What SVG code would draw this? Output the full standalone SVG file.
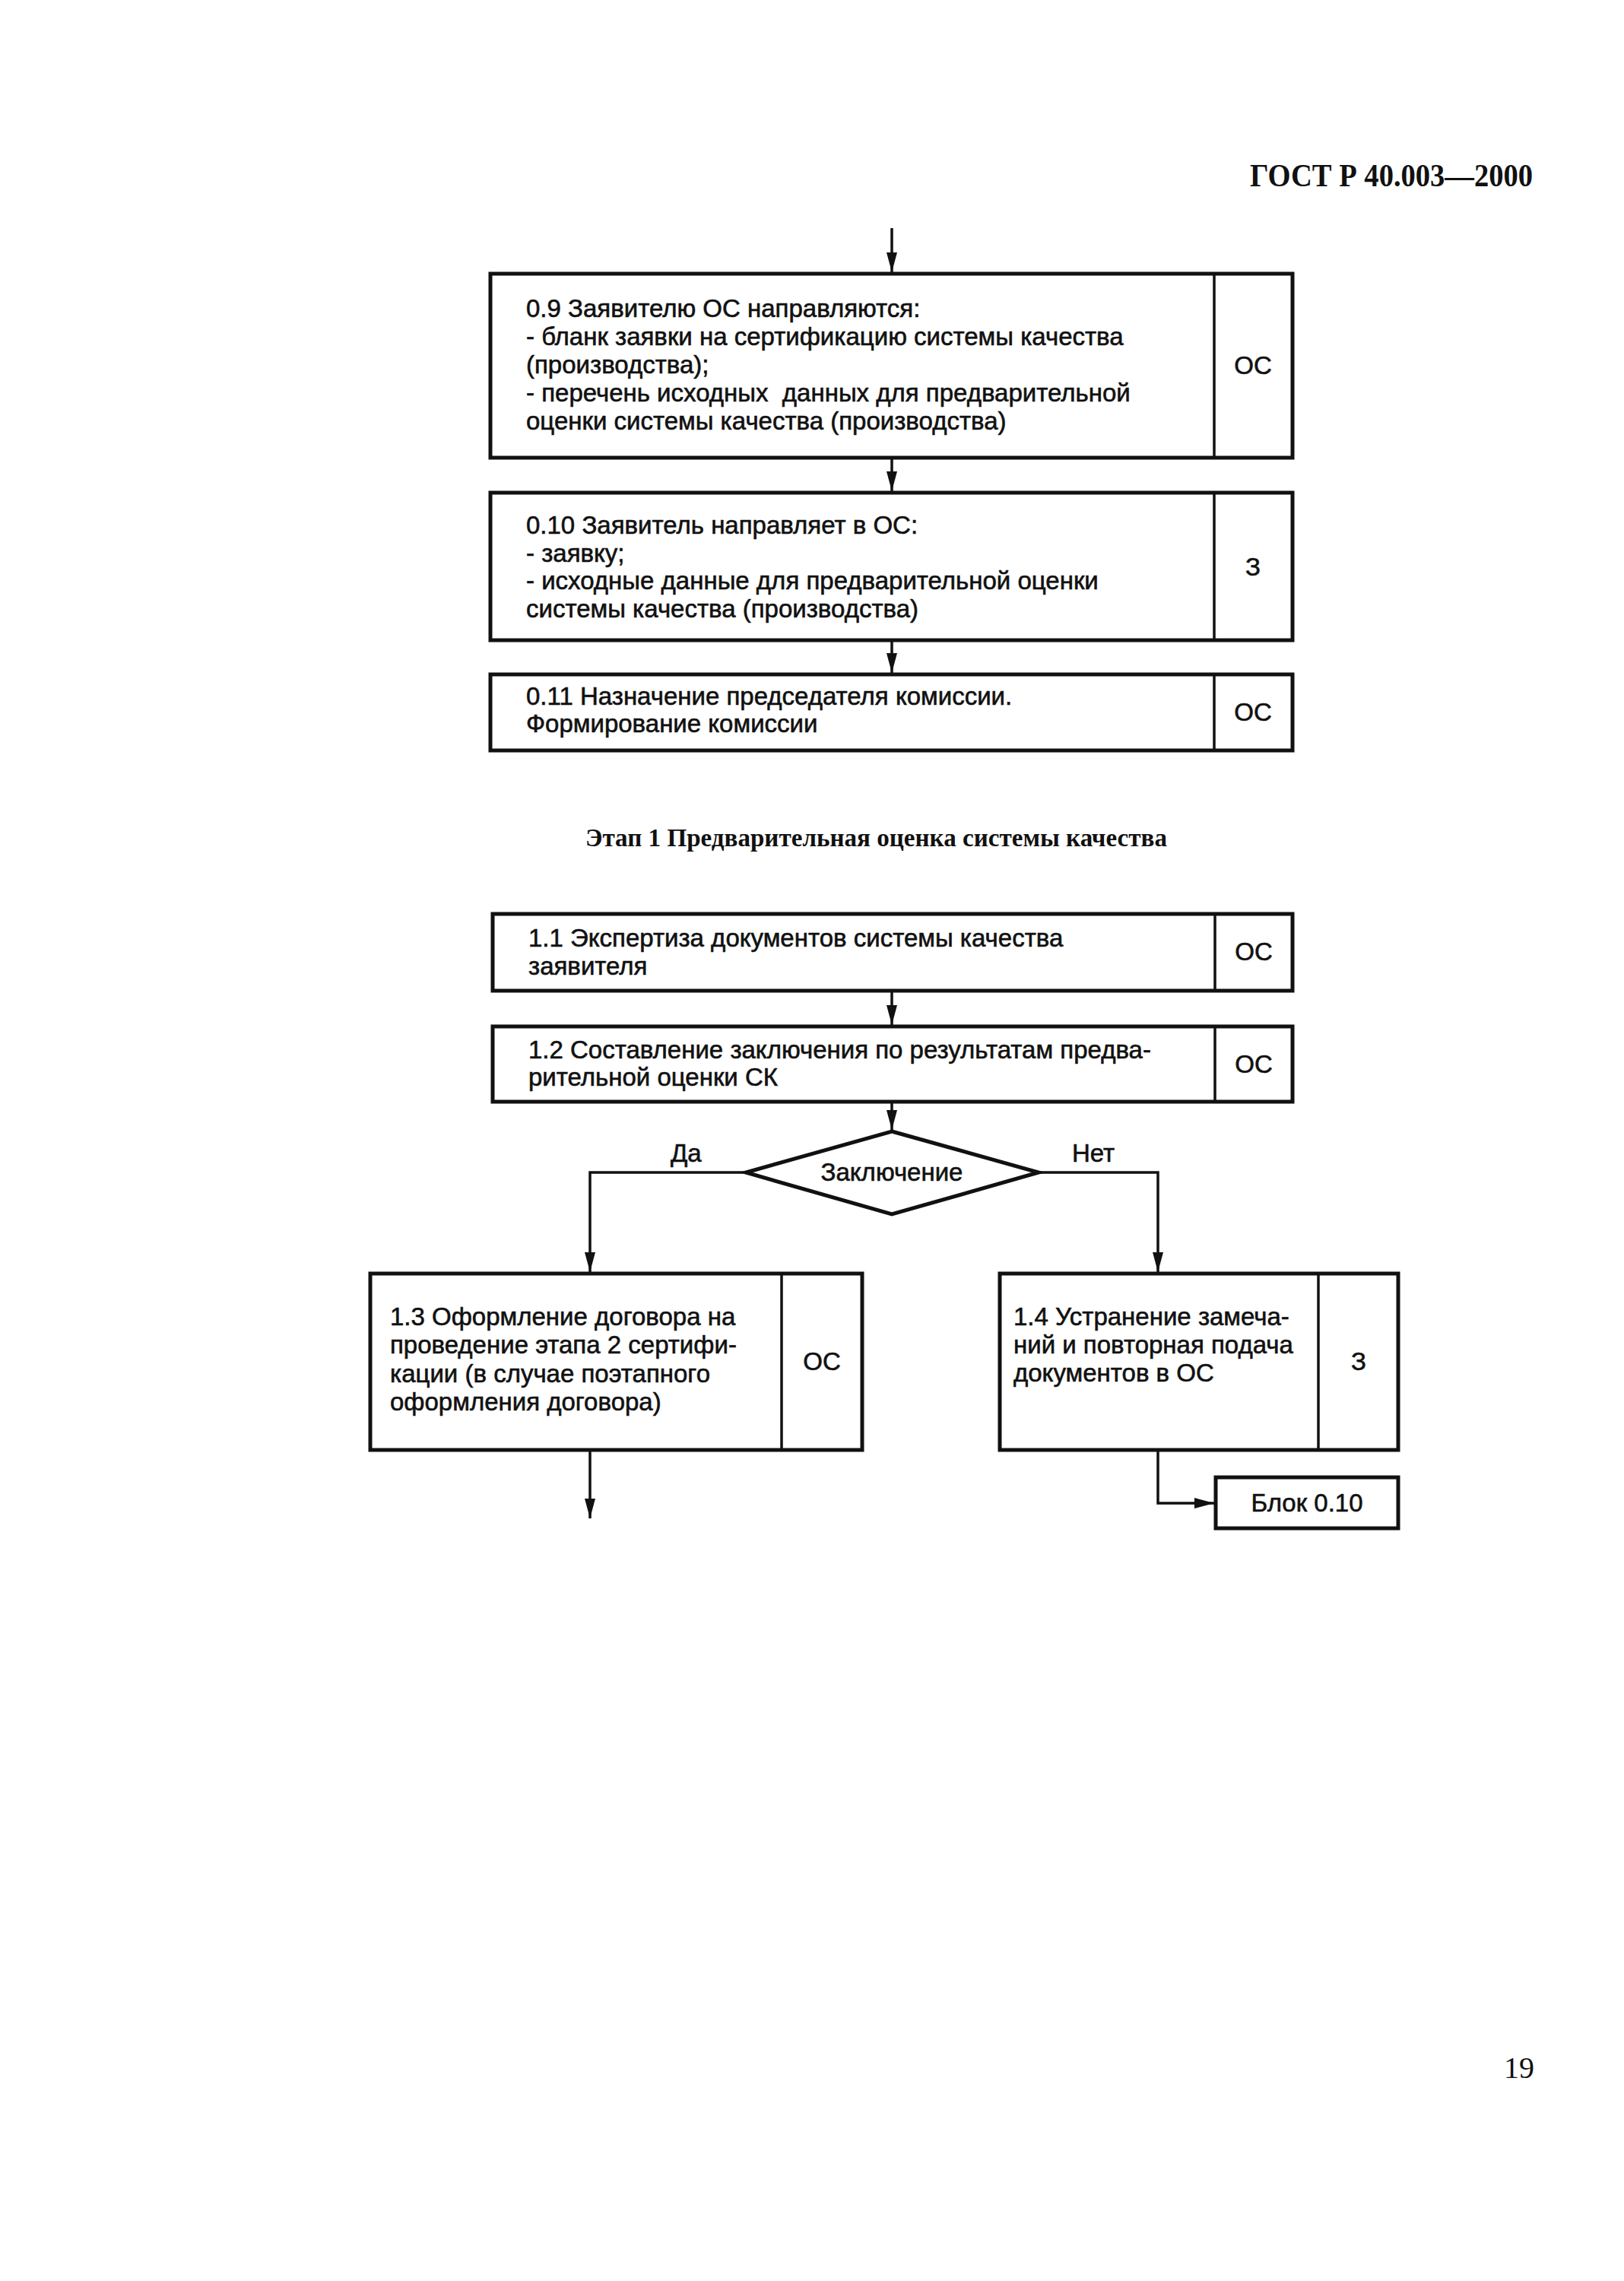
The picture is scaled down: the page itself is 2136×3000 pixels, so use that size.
<svg xmlns="http://www.w3.org/2000/svg" width="2136" height="3000" viewBox="0 0 2136 3000">
<style>
.bg{fill:#fff}
.box{fill:#fff;stroke:#111;stroke-width:5}
.div{stroke:#111;stroke-width:3.5;fill:none}
.t{font-family:"Liberation Sans",Arial,sans-serif;font-size:33px;fill:#111;stroke:#111;stroke-width:0.6}
.c{text-anchor:middle}
.hd{font-family:"Liberation Serif","Times New Roman",serif;font-weight:bold;fill:#111}
.pg{font-family:"Liberation Serif","Times New Roman",serif;fill:#111}
.ln{fill:none;stroke:#111;stroke-width:3.5}
</style>
<defs>
<marker id="ah" markerUnits="userSpaceOnUse" markerWidth="28" markerHeight="14" refX="26" refY="7" orient="auto">
<path d="M0,0 L26,7 L0,14 z" fill="#111"/>
</marker>
</defs>
<rect class="bg" x="0" y="0" width="2136" height="3000"/>
<text class="hd" x="2016" y="245" font-size="42" text-anchor="end" textLength="372" lengthAdjust="spacingAndGlyphs">ГОСТ Р 40.003—2000</text>
<text class="pg" x="2018" y="2733" font-size="40" text-anchor="end">19</text>
<text class="hd" x="770" y="1113" font-size="33" textLength="765" lengthAdjust="spacingAndGlyphs">Этап 1  Предварительная оценка системы качества</text>

<g id="connectors">
<path class="ln" d="M1173,300 V358" marker-end="url(#ah)"/>
<path class="ln" d="M1173,602 V646" marker-end="url(#ah)"/>
<path class="ln" d="M1173,842 V885" marker-end="url(#ah)"/>
<path class="ln" d="M1173,1303 V1348" marker-end="url(#ah)"/>
<path class="ln" d="M1173,1449 V1486" marker-end="url(#ah)"/>
<path class="ln" d="M981,1542 H776 V1673" marker-end="url(#ah)"/>
<path class="ln" d="M1366,1542 H1523 V1673" marker-end="url(#ah)"/>
<path class="ln" d="M776,1907 V1997" marker-end="url(#ah)"/>
<path class="ln" d="M1523,1907 V1977 H1597" marker-end="url(#ah)"/>
<text class="t" x="882" y="1528">Да</text>
<text class="t" x="1410" y="1528">Нет</text>
</g>

<g id="n09">
<rect class="box" x="645" y="360" width="1055" height="242"/>
<line class="div" x1="1597" y1="360" x2="1597" y2="602"/>
<text class="t" x="692" y="417">0.9 Заявителю ОС направляются:</text>
<text class="t" x="692" y="454">- бланк заявки на сертификацию системы качества</text>
<text class="t" x="692" y="491">(производства);</text>
<text class="t" x="692" y="528" xml:space="preserve">- перечень исходных  данных для предварительной</text>
<text class="t" x="692" y="565">оценки системы качества (производства)</text>
<text class="t c" x="1648" y="492">ОС</text>
</g>

<g id="n010">
<rect class="box" x="645" y="648" width="1055" height="194"/>
<line class="div" x1="1597" y1="648" x2="1597" y2="842"/>
<text class="t" x="692" y="702">0.10 Заявитель направляет в ОС:</text>
<text class="t" x="692" y="739">- заявку;</text>
<text class="t" x="692" y="775">- исходные данные для предварительной оценки</text>
<text class="t" x="692" y="812">системы качества (производства)</text>
<text class="t c" x="1648" y="757">З</text>
</g>

<g id="n011">
<rect class="box" x="645" y="887" width="1055" height="100"/>
<line class="div" x1="1597" y1="887" x2="1597" y2="987"/>
<text class="t" x="692" y="927">0.11 Назначение председателя комиссии.</text>
<text class="t" x="692" y="963">Формирование комиссии</text>
<text class="t c" x="1648" y="948">ОС</text>
</g>

<g id="n11">
<rect class="box" x="648" y="1202" width="1052" height="101"/>
<line class="div" x1="1598" y1="1202" x2="1598" y2="1303"/>
<text class="t" x="695" y="1245">1.1 Экспертиза документов системы качества</text>
<text class="t" x="695" y="1282">заявителя</text>
<text class="t c" x="1649" y="1263">ОС</text>
</g>

<g id="n12">
<rect class="box" x="648" y="1350" width="1052" height="99"/>
<line class="div" x1="1598" y1="1350" x2="1598" y2="1449"/>
<text class="t" x="695" y="1392">1.2 Составление заключения по результатам предва-</text>
<text class="t" x="695" y="1428">рительной оценки СК</text>
<text class="t c" x="1649" y="1411">ОС</text>
</g>

<g id="decision">
<polygon class="box" points="1173,1488 1366,1542 1173,1597 981,1542"/>
<text class="t c" x="1173" y="1553">Заключение</text>
</g>

<g id="n13">
<rect class="box" x="487" y="1675" width="647" height="232"/>
<line class="div" x1="1028" y1="1675" x2="1028" y2="1907"/>
<text class="t" x="513" y="1743">1.3 Оформление договора на</text>
<text class="t" x="513" y="1780">проведение этапа 2 сертифи-</text>
<text class="t" x="513" y="1818">кации (в случае поэтапного</text>
<text class="t" x="513" y="1855">оформления договора)</text>
<text class="t c" x="1081" y="1802">ОС</text>
</g>

<g id="n14">
<rect class="box" x="1315" y="1675" width="524" height="232"/>
<line class="div" x1="1734" y1="1675" x2="1734" y2="1907"/>
<text class="t" x="1333" y="1743">1.4 Устранение замеча-</text>
<text class="t" x="1333" y="1780">ний и повторная подача</text>
<text class="t" x="1333" y="1817">документов в ОС</text>
<text class="t c" x="1787" y="1802">З</text>
</g>

<g id="blk010">
<rect class="box" x="1599" y="1943" width="240" height="67"/>
<text class="t c" x="1719" y="1988">Блок 0.10</text>
</g>
</svg>
